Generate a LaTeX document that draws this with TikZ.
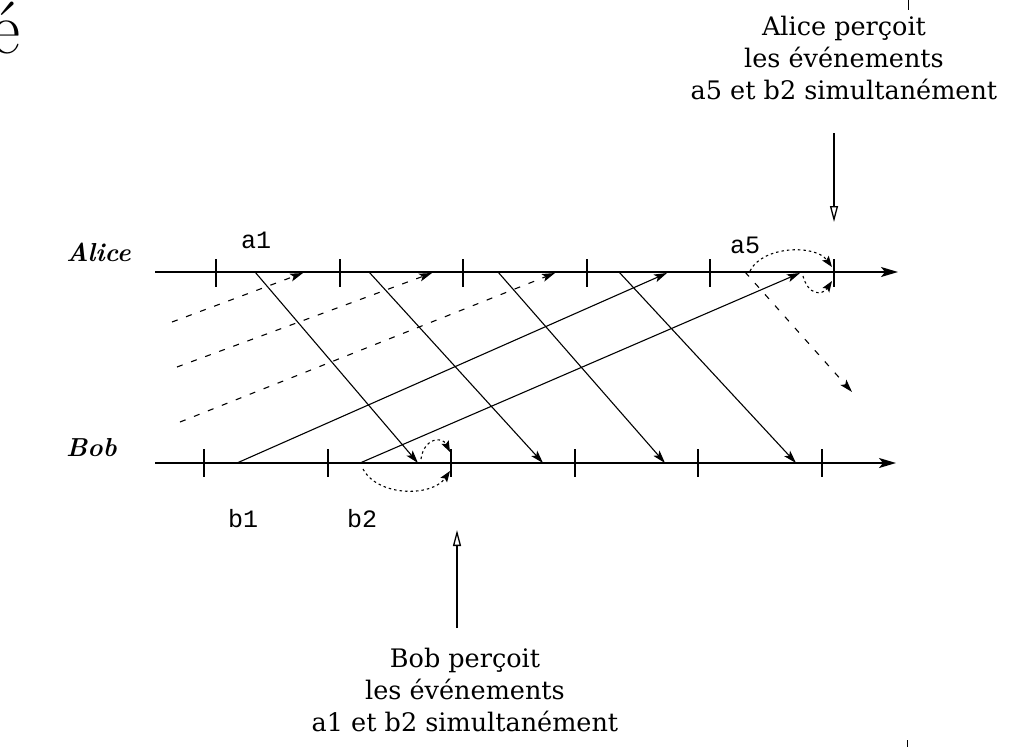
\documentclass[tikz,border=0pt]{standalone}
\usepackage{fontspec}
\newfontfamily\labelfont{Liberation Mono}
\newfontfamily\notefont{DejaVu Serif}
\usetikzlibrary{arrows.meta}
\begin{document}
\begin{tikzpicture}[x=1pt,y=-1pt,
  axis/.style={line width=1.6pt,-{Stealth[length=17pt,width=10pt,inset=4pt]}},
  tickmark/.style={line width=1.6pt},
  msg/.style={line width=1.1pt,-{Stealth[length=13pt,width=8pt,inset=3pt]}},
  past/.style={msg,dash pattern=on 6pt off 9pt},
  perc/.style={line width=1.1pt,dash pattern=on 2.5pt off 3pt,-{Stealth[length=11pt,width=8pt,inset=2pt]}},
  pointer/.style={line width=1.3pt,-{Triangle[open,length=16pt,width=8pt]}},
  evlabel/.style={font=\labelfont\fontsize{25}{25}\selectfont,anchor=base,inner sep=0pt},
  who/.style={font=\fontsize{26}{26}\selectfont\bfseries\itshape,anchor=base west,inner sep=0pt},
  note/.style={font=\notefont\fontsize{25.5}{32}\selectfont,align=center,anchor=north,inner sep=0pt}
]
\useasboundingbox (0,0) rectangle (1020,747);

% cut glyph and frame remnants
\node[font=\fontsize{74}{74}\selectfont,anchor=base east,inner sep=0pt] (ecut) at (21,53) {é};
\coordinate (fr1) at (908,0); \coordinate (fr2) at (908,10);
\draw[line width=1pt] (fr1) -- (fr2);
\coordinate (fr3) at (907,740); \coordinate (fr4) at (907,747);
\draw[line width=1pt] (fr3) -- (fr4);

% world lines
\coordinate (As) at (155,272); \coordinate (Ae) at (898,272);
\coordinate (Bs) at (155,463); \coordinate (Be) at (896,463);
\draw[axis] (As) -- (Ae);
\draw[axis] (Bs) -- (Be);
\foreach \x in {216,340,463,587,710,834} \draw[tickmark] (\x,259) -- (\x,287);
\foreach \x in {204,328,451,575,698,822} \draw[tickmark] (\x,449) -- (\x,477);

\node[who] (alice) at (66,261) {Alice};
\node[who] (bob) at (66,456) {Bob};

% events
\coordinate (a1) at (255,272); \coordinate (a2) at (369,272);
\coordinate (a3) at (498,272); \coordinate (a4) at (619,272);
\coordinate (a5) at (745,272);
\coordinate (r1) at (418,463); \coordinate (r2) at (543,463);
\coordinate (r3) at (665,463); \coordinate (r4) at (796,463);
\coordinate (r5) at (852,392);
\coordinate (b1) at (237,463); \coordinate (b2) at (360,463);
\coordinate (s1) at (667,273); \coordinate (s2) at (800,273);
\coordinate (p1) at (172,322); \coordinate (q1) at (303,273);
\coordinate (p2) at (177,367); \coordinate (q2) at (432,273);
\coordinate (p3) at (180,422); \coordinate (q3) at (555,273);

\node[evlabel] (la1) at (256,248) {a1};
\node[evlabel] (la5) at (745,253) {a5};
\node[evlabel] (lb1) at (243,527) {b1};
\node[evlabel] (lb2) at (362,527) {b2};

% messages Alice -> Bob
\draw[msg] (a1) -- (r1);
\draw[msg] (a2) -- (r2);
\draw[msg] (a3) -- (r3);
\draw[msg] (a4) -- (r4);
\draw[past] (a5) -- (r5);
% messages Bob -> Alice
\draw[msg] (b1) -- (s1);
\draw[msg] (b2) -- (s2);
\draw[past] (p1) -- (q1);
\draw[past] (p2) -- (q2);
\draw[past] (p3) -- (q3);

% perception
\coordinate (bp1) at (450,452); \coordinate (bp2) at (450,471);
\draw[perc] (421,459) .. controls (424,438) and (442,436) .. (bp1);
\draw[perc] (b2) ++(3,6) .. controls (378,497) and (432,497) .. (bp2);
\coordinate (ap1) at (832,267); \coordinate (ap2) at (832,281);
\draw[perc] (750,271) .. controls (762,246) and (815,244) .. (ap1);
\draw[perc] (803,276) .. controls (808,295) and (822,296) .. (ap2);

% notes
\node[note] (na) at (844,15.5) {Alice perçoit\\les événements\\a5 et b2 simultanément};
\node[note] (nb) at (465,647.5) {Bob perçoit\\les événements\\a1 et b2 simultanément};
\coordinate (pa1) at (834,133); \coordinate (pa2) at (834,222);
\coordinate (pb1) at (457,628); \coordinate (pb2) at (457,530);
\draw[pointer] (pa1) -- (pa2);
\draw[pointer] (pb1) -- (pb2);
\end{tikzpicture}
\end{document}
